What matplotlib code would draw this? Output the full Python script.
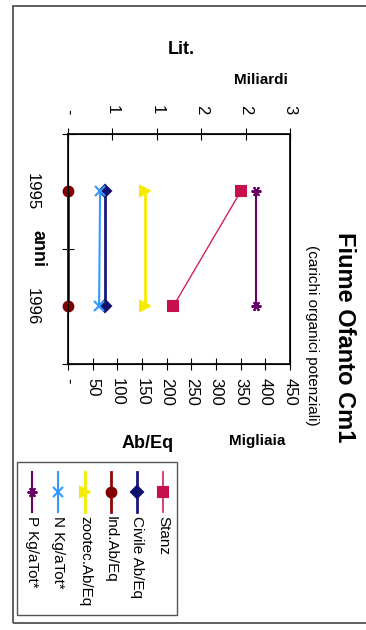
import matplotlib.pyplot as plt
from matplotlib.lines import Line2D
from matplotlib.patches import Rectangle

plt.rcParams['font.family'] = ['Liberation Sans', 'DejaVu Sans']

# dati (migliaia di Ab/Eq) - il grafico originale e' ruotato di 90 gradi
anni = ['1995', '1996']
stanz = [350, 213]
civile = [75, 75]
ind = [0, 0]
zootec = [157, 157]
n_kg = [65, 63]
p_kg = [382, 382]

tick_abeq = [0, 50, 100, 150, 200, 250, 300, 350, 400, 450]
label_abeq = ['-', '50', '100', '150', '200', '250', '300', '350', '400', '450']
tick_lit = [0, 0.6, 1.2, 1.8, 2.4, 3.0]
label_lit = ['-', '1', '1', '2', '2', '3']

serie = [
    ('Stanz', stanz, '#D0206A', '#C8104E', 's', 1.0, 7),
    ('Civile Ab/Eq', civile, '#1A1A7A', '#10106E', 'D', 2.0, 6),
    ('Ind.Ab/Eq', ind, '#8B0A0A', '#800000', 'o', 2.0, 7),
    ('zootec.Ab/Eq', zootec, '#F5EB00', '#F5EB00', '>', 2.0, 7),
    ('N Kg/aTot*', n_kg, '#3399FF', '#3399FF', 'x', 1.5, 7),
    ('P Kg/aTot*', p_kg, '#660066', '#660066', (6, 2, 90), 1.5, 7),
]

W, H = 366, 630


def fx(x):
    return x / W


def fy(y):
    return 1 - y / H


fig = plt.figure(figsize=(W / 100, H / 100), dpi=100)

ax = fig.add_axes([fx(68), fy(364), fx(290) - fx(68), fy(134) - fy(364)])
pos = list(range(1, len(anni) + 1))

for nome, valori, col, mcol, mk, lw, ms in serie:
    ax.plot(valori, pos, color=col, lw=lw, marker=mk, markersize=ms,
            markerfacecolor=mcol, markeredgecolor=mcol, markeredgewidth=1.5,
            clip_on=False, zorder=3)

ax.set_xlim(0, 450)
ax.set_ylim(len(anni) + 0.5, 0.5)

ax.set_xticks(tick_abeq)
ax.set_xticklabels(label_abeq, rotation=-90, fontsize=12)
ax.tick_params(axis='x', direction='inout', length=8, pad=6, width=0.8)

ax.set_yticks(pos)
ax.set_yticklabels(anni, rotation=-90, fontsize=12, va='center')
ax.set_yticks([0.5, 1.5, 2.5], minor=True)
ax.tick_params(axis='y', which='major', length=0, pad=20)
ax.tick_params(axis='y', which='minor', direction='inout', length=8, width=0.8)

for s in ax.spines.values():
    s.set_linewidth(1.2)

ax2 = ax.twiny()
ax2.set_xlim(0, 3)
ax2.set_xticks(tick_lit)
ax2.set_xticklabels(label_lit, rotation=-90, fontsize=12)
ax2.tick_params(axis='x', direction='inout', length=8, pad=10, width=0.8)

# testi
fig.text(fx(344), fy(337), 'Fiume Ofanto Cm1', rotation=-90, fontsize=17,
         fontweight='bold', ha='center', va='center')
fig.text(fx(312), fy(335), '(carichi organici potenziali)', rotation=-90,
         fontsize=11, ha='center', va='center')
fig.text(fx(181), fy(49), 'Lit.', fontsize=13, fontweight='bold', ha='center', va='center')
fig.text(fx(261), fy(80), 'Miliardi', fontsize=11, fontweight='bold', ha='center', va='center')
fig.text(fx(148), fy(443), 'Ab/Eq', fontsize=13, fontweight='bold', ha='center', va='center')
fig.text(fx(257), fy(441), 'Migliaia', fontsize=11, fontweight='bold', ha='center', va='center')
fig.text(fx(38), fy(249), 'anni', rotation=-90, fontsize=13, fontweight='bold',
         ha='center', va='center')

# legenda disegnata a mano (ruotata)
fig.add_artist(Rectangle((fx(17), fy(615)), fx(177) - fx(17), fy(462) - fy(615),
                         transform=fig.transFigure, fill=False, lw=1.0, ec='#555555'))
leg_x = [163, 137, 111, 85, 58, 32]
for (nome, valori, col, mcol, mk, lw, ms), x in zip(serie, leg_x):
    fig.add_artist(Line2D([fx(x), fx(x)], [fy(472), fy(512)], transform=fig.transFigure,
                          color=col, lw=max(lw, 1.2)))
    fig.add_artist(Line2D([fx(x)], [fy(492)], transform=fig.transFigure, marker=mk,
                          markersize=ms, color=mcol, markeredgewidth=1.5, ls='none'))
    fig.text(fx(x), fy(516), nome, rotation=-90, fontsize=11, ha='center', va='top')

# cornice esterna
fig.add_artist(Rectangle((fx(13), fy(623)), 1.0, fy(6) - fy(623),
                         transform=fig.transFigure, fill=False, lw=1.2, ec='#444444'))

fig.savefig('out.png', dpi=100)
